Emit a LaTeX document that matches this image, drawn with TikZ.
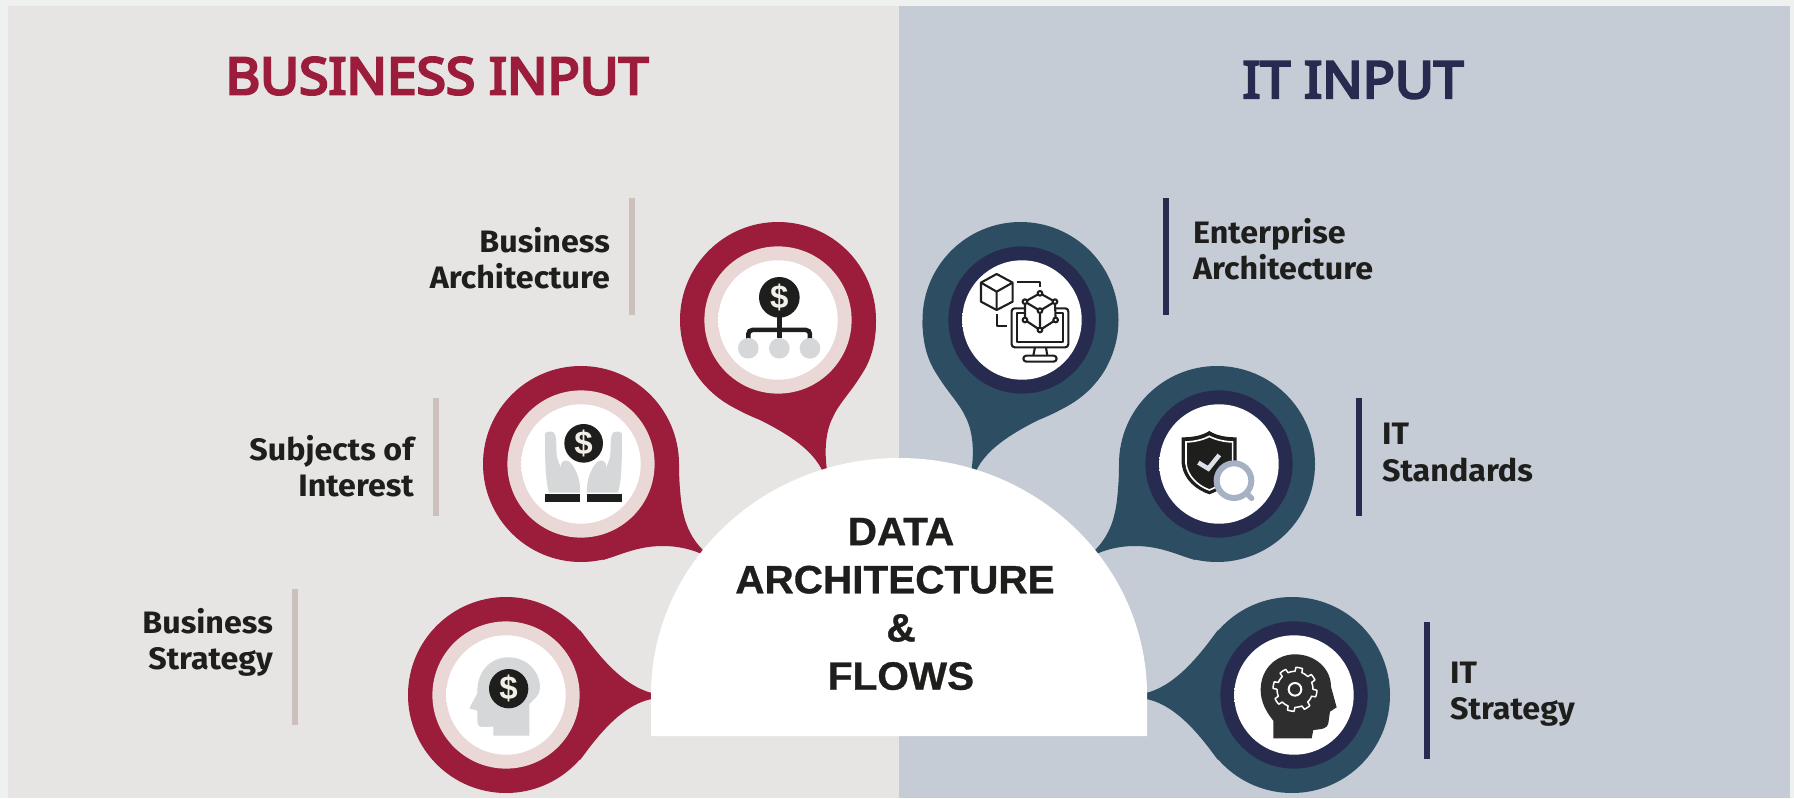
\documentclass[tikz,border=0pt]{standalone}
\usepackage{fontspec}
\setmainfont{Fira Sans}[FakeStretch=1.04]
\newfontfamily\titlefont{Noto Sans}[FakeBold=5,FakeStretch=1.045]
\newfontfamily\centerfont{Liberation Sans}[FakeStretch=1.025,BoldFeatures={FakeBold=0.8,FakeStretch=1.025}]
\newfontfamily\usdfont{Liberation Sans}
\definecolor{pagebg}{HTML}{EFF1F0}
\definecolor{leftbg}{HTML}{E6E5E3}
\definecolor{rightbg}{HTML}{C5CCD5}
\definecolor{crimson}{HTML}{9B1D3B}
\definecolor{teal}{HTML}{2D4D63}
\definecolor{blush}{HTML}{E9D8D5}
\definecolor{navy}{HTML}{272B50}
\definecolor{barl}{HTML}{CCC0BC}
\definecolor{ink}{HTML}{1E1E1C}
\definecolor{iconGrey}{HTML}{D5D7D9}
\definecolor{lav}{HTML}{A7B1C6}
\definecolor{dollar}{HTML}{F2EFE7}
\pgfdeclareradialshading{dish}{\pgfpoint{0bp}{-7bp}}{color(0bp)=(white);color(42bp)=(white);color(47bp)=(white!97!iconGrey);color(52bp)=(white!88!iconGrey);color(57bp)=(iconGrey);color(100bp)=(iconGrey)}
\tikzset{
  title/.style={font=\titlefont\fontsize{51}{51}\selectfont,inner sep=0pt},
  lbl/.style={font=\fontsize{31}{36.5}\selectfont\bfseries,text=ink,inner sep=0pt},
  ctr/.style={font=\centerfont\fontsize{39.5}{48.2}\selectfont\bfseries,text=ink,inner sep=0pt,align=center},
  bar/.style={line width=6pt},
  usd/.style={font=\usdfont\fontsize{33}{33}\selectfont\bfseries,text=dollar,inner sep=0pt},
  ic/.style={x=0.3333pt,y=-0.3333pt},
}
\newcommand\tailA{(876,320) .. controls (876,350) and (868,365) .. (860,377) .. controls (850,393) and (838,405) .. (833,417) .. controls (826,430) and (824,450) .. (827,470) -- (822,470) .. controls (812,450) and (790,435) .. (760,420) .. controls (735,410) and (706,394) .. (691.5,366) -- cycle}
\newcommand\tailB{(679,464) .. controls (679,480) and (680,490) .. (681,500) .. controls (684,525) and (692,540) .. (706,553) -- (706,556) .. controls (690,548) and (675,546) .. (663,546) .. controls (640,546) and (625,553) .. (603,560) -- (581,500) -- cycle}
\newcommand\tailC{(580,630) .. controls (595,650) and (620,685) .. (652,693) -- (652,699) .. controls (620,705) and (595,740) .. (580,760) -- cycle}
% \disc{outer x}{inner x}{y}{outer}{ring}
\newcommand\disc[5]{%
  \fill[#4] (#1,#3) circle[radius=98];
  \fill[#5] (#2,#3) circle[radius=73.6];
  \shade[shading=dish] (#2,#3) circle[radius=59.7];
}
\begin{document}
\begin{tikzpicture}[x=1pt,y=-1pt]
\useasboundingbox (0,0) rectangle (1794,798);
\fill[pagebg] (0,0) rectangle (1794,798);
\fill[leftbg] (8,6) rectangle (899,798);
\fill[rightbg] (899,6) rectangle (1790,798);

\node[title,text=crimson] (bi) at (437,76) {BUSINESS INPUT};
\node[title,text=navy] (ii) at (1353,80) {IT INPUT};

\fill[crimson] \tailA;
\disc{778}{778}{320}{crimson}{blush}
\fill[crimson] \tailB;
\disc{581}{581}{464}{crimson}{blush}
\fill[crimson] \tailC;
\disc{506}{506}{695}{crimson}{blush}
\begin{scope}[shift={(1798.5,0)},xscale=-1]
  \fill[teal] \tailA;
\end{scope}
\disc{1020.5}{1022}{320}{teal}{navy}
\begin{scope}[shift={(1798,0)},xscale=-1]
  \fill[teal] \tailB;
  \fill[teal] \tailC;
\end{scope}
\disc{1217}{1219}{464}{teal}{navy}
\disc{1292}{1294}{695}{teal}{navy}

\fill[white] (651,736) -- (651,695) arc[start angle=180,end angle=0,x radius=248,y radius=-237] -- (1147,736) -- cycle;
\node[ctr] (dt) at (901,604) {DATA\\ARCHITECTURE\rule{12pt}{0pt}\\\&\\FLOWS};

% icon: business architecture
\begin{scope}[shift={(660,200)},ic]
  \draw[ink,line width=4.5pt] (358,292) -- (358,415);
  \draw[ink,line width=4.5pt,rounded corners=4pt] (265,418) -- (265,390) -- (450,390) -- (450,418);
  \fill[ink] (358,292) circle[radius=61];
  \foreach \cx in {265,358,450} \fill[iconGrey] (\cx,445) circle[radius=31];
  \node[usd] (d1) at (358,292) {\$};
\end{scope}

% icon: subjects of interest
\begin{scope}[shift={(470,360)},ic]
  \foreach \sx/\ox in {1/0,-1/681}{
    \begin{scope}[shift={(\ox,0)},xscale=\sx]
      \fill[iconGrey] (225,222) .. controls (225,215) and (245,212) .. (252,218) .. controls (260,228) and (258,250) .. (260,285) .. controls (262,305) and (280,340) .. (295,352) .. controls (285,340) and (270,325) .. (273,312) .. controls (278,298) and (295,298) .. (305,312) .. controls (322,335) and (332,365) .. (330,398) -- (237,398) .. controls (226,360) and (225,300) .. (225,222) -- cycle;
      \fill[ink] (225,402) rectangle (330,426);
    \end{scope}
  }
  \fill[ink] (341,250) circle[radius=58];
  \node[usd] (d2) at (341,250) {\$};
\end{scope}

% icon: business strategy
\begin{scope}[shift={(400,580)},ic]
  \fill[iconGrey] (280,467) -- (280,440) -- (248,441) .. controls (235,441) and (232,432) .. (232,420) -- (232,392) -- (208,385) -- (232,340) .. controls (230,270) and (275,232) .. (325,232) .. controls (385,232) and (422,280) .. (420,325) .. controls (420,345) and (400,360) .. (388,372) -- (388,467) -- cycle;
  \fill[ink] (326,326) circle[radius=59];
  \node[usd] (d3) at (326,326) {\$};
\end{scope}

% icon: enterprise architecture
\begin{scope}[shift={(660,200)},ic,line width=2.1pt,draw=ink,line join=round]
  \draw (1010,222) -- (1058,248) -- (1058,305) -- (1010,330) -- (963,305) -- (963,248) -- cycle;
  \draw (963,248) -- (1010,275) -- (1058,248) (1010,275) -- (1010,330);
  \draw (1070,245) -- (1140,245) -- (1140,262);
  \draw (1010,342) -- (1010,378) -- (1042,378);
  \draw[rounded corners=3pt] (1055,325) rectangle (1225,442);
  \draw (1072,340) rectangle (1210,425);
  \draw (1125,442) -- (1120,467) (1158,442) -- (1162,467);
  \draw[rounded corners=3pt] (1090,467) rectangle (1190,485);
  \fill[white] (1140,280) -- (1185,305) -- (1187,360) -- (1140,390) -- (1095,360) -- (1095,305) -- cycle;
  \draw (1140,280) -- (1185,305) -- (1187,360) -- (1140,390) -- (1095,360) -- (1095,305) -- cycle;
  \draw (1095,305) -- (1140,332) -- (1185,305) (1140,332) -- (1140,390);
  \foreach \nx/\ny in {1140/280,1185/305,1187/360,1140/390,1095/360,1095/305,1140/332}
    \filldraw[fill=white] (\nx,\ny) circle[radius=7];
\end{scope}

% icon: IT standards
\begin{scope}[shift={(1100,360)},ic]
  \fill[ink] (328,213) .. controls (305,228) and (275,232) .. (245,232) -- (245,310) .. controls (250,360) and (290,390) .. (328,403) .. controls (366,390) and (405,360) .. (410,310) -- (410,232) .. controls (381,232) and (351,228) .. (328,213) -- cycle;
  \draw[white,line width=1.6pt] (328,229) .. controls (308,240) and (282,245) .. (258,246) -- (258,310) .. controls (262,350) and (295,378) .. (328,390) .. controls (361,378) and (394,350) .. (398,310) -- (398,246) .. controls (374,245) and (348,240) .. (328,229) -- cycle;
  \draw[white!60!lav,line width=4.5pt,line join=miter] (295,308) -- (325,326) -- (358,285);
  \draw[lav,line width=5.5pt,line cap=round] (432,392) -- (455,415);
  \filldraw[fill=white,draw=lav,line width=6pt] (402,362) circle[radius=52];
\end{scope}

% icon: IT strategy
\begin{scope}[shift={(1140,590)},ic]
  \fill[black!82] (400,445) -- (400,392) .. controls (378,365) and (362,335) .. (362,300) .. controls (362,235) and (410,193) .. (465,193) .. controls (525,193) and (573,235) .. (573,290) -- (590,352) -- (570,365) -- (565,400) .. controls (562,415) and (550,417) .. (520,420) -- (515,445) -- cycle;
  \draw[white,line width=1.5pt,line join=round] plot[domain=0:360,samples=145] ({465+(60+6*(sin(8*\x)>0?1:-1))*cos(\x)},{298+(60+6*(sin(8*\x)>0?1:-1))*sin(\x)}) -- cycle;
  \draw[white,line width=2pt] (465,298) circle[radius=19];
\end{scope}

% bars
\draw[bar,barl] (632,198) coordinate (b1a) -- (632,315) coordinate (b1b);
\draw[bar,barl] (436,398) coordinate (b2a) -- (436,516) coordinate (b2b);
\draw[bar,barl] (295,589) coordinate (b3a) -- (295,725) coordinate (b3b);
\draw[bar,navy] (1166,198) coordinate (b4a) -- (1166,315) coordinate (b4b);
\draw[bar,navy] (1359,398) coordinate (b5a) -- (1359,516) coordinate (b5b);
\draw[bar,navy] (1427,622) coordinate (b6a) -- (1427,759) coordinate (b6b);

% labels
\node[lbl,align=right,anchor=east] (l1) at (610,258) {Business\\Architecture};
\node[lbl,align=right,anchor=east] (l2) at (414,466) {Subjects of\\Interest};
\node[lbl,align=right,anchor=east] (l3) at (273,642.5) {Business\\Strategy};
\node[lbl,align=left,anchor=west] (l4) at (1193,249) {Enterprise\\Architecture};
\node[lbl,align=left,anchor=west] (l5) at (1382,452.5) {IT\\Standards};
\node[lbl,align=left,anchor=west] (l6) at (1450,694) {IT\\Strategy};
\end{tikzpicture}
\end{document}
